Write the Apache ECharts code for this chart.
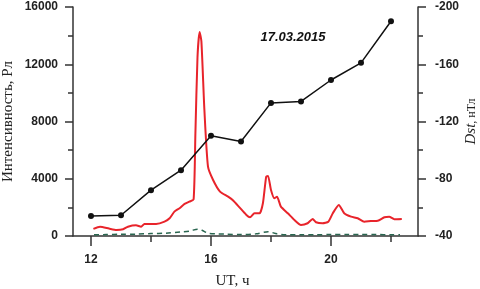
<!DOCTYPE html>
<html>
<head>
<meta charset="utf-8">
<script src="https://cdn.jsdelivr.net/npm/echarts@6/dist/echarts.min.js"></script>
<style>
  html, body { margin: 0; padding: 0; background: #fff; }
  #chart { width: 480px; height: 289px; }
</style>
</head>
<body>
<div id="chart"></div>
<script>
// intensity (red), hours UT
var redHours = [12.08, 12.3, 12.6, 12.85, 13.07, 13.23, 13.5, 13.67, 13.78, 14.17, 14.45, 14.62, 14.78, 14.95,
  15.12, 15.28, 15.42, 15.48, 15.55, 15.62, 15.68, 15.78, 15.9, 16.07, 16.3, 16.57, 16.73, 16.95, 17.18,
  17.3, 17.45, 17.62, 17.73, 17.84, 17.9, 18.0, 18.11, 18.2, 18.33, 18.56, 18.78, 19.0, 19.22, 19.39,
  19.5, 19.72, 19.91, 20.06, 20.26, 20.44, 20.67, 20.89, 21.11, 21.33, 21.56, 21.78, 21.94, 22.11, 22.36];
var redValues = [500, 650, 520, 420, 470, 650, 750, 650, 840, 840, 1000, 1240, 1700, 1940,
  2240, 2400, 2560, 7180, 12500, 14250, 13600, 8800, 4840, 3910, 3100, 2750, 2500, 2000, 1470,
  1310, 1590, 1590, 2290, 4150, 4200, 3210, 2630, 2750, 2050, 1590, 1120, 770, 890, 1190,
  960, 890, 1000, 1590, 2170, 1590, 1350, 1240, 1000, 1050, 1070, 1310, 1350, 1170, 1190];

// second intensity (green dashed)
var greenHours = [12.1, 12.5, 13, 13.5, 14, 14.5, 15, 15.3, 15.55, 15.7, 15.9, 16.2, 16.5, 17, 17.5,
  17.9, 18.2, 18.5, 19, 19.5, 20, 20.5, 21, 21.5, 22, 22.3];
var greenValues = [80, 100, 120, 130, 170, 200, 280, 350, 480, 400, 200, 150, 130, 100, 150,
  300, 150, 90, 80, 90, 100, 110, 100, 100, 90, 90];

// Dst index (black), hourly
var dstHours = [12, 13, 14, 15, 16, 17, 18, 19, 20, 21, 22];
var dstValues = [-54, -54.5, -72, -86, -110, -106, -133, -134, -149, -161, -190];

var xLabelValues = [12, 16, 20];
var xMinorTicks = [14, 18, 22];

function pairs(xs, ys) {
  return xs.map(function (x, i) { return [x, ys[i]]; });
}

var labelFont = {
  fontFamily: 'Liberation Sans',
  fontWeight: 'bold',
  fontSize: 12,
  color: '#222'
};
var nameFont = {
  fontFamily: 'Liberation Serif',
  fontSize: 15,
  color: '#222'
};
var lineStyle = { color: '#333', width: 1.5 };
var plain = function (v) { return String(v); };

var chart = echarts.init(document.getElementById('chart'));
chart.setOption({
  animation: false,
  grid: { left: 73, right: 62, top: 7, bottom: 53, outerBoundsMode: 'none', containLabel: false },
  title: {
    text: '17.03.2015',
    left: 288,
    top: 26,
    textAlign: 'center',
    textStyle: {
      fontFamily: 'Liberation Sans',
      fontStyle: 'italic',
      fontWeight: 'bold',
      fontSize: 13,
      color: '#111'
    }
  },
  xAxis: [
    {
      type: 'value',
      min: 11.4,
      max: 22.9,
      name: 'UT, ч',
      nameLocation: 'middle',
      nameGap: 38,
      nameMoveOverlap: false,
      nameTextStyle: Object.assign({}, nameFont, { padding: [0, 26, 0, 0] }),
      axisLine: { lineStyle: lineStyle },
      axisTick: { customValues: xLabelValues, length: 10, lineStyle: lineStyle },
      axisLabel: Object.assign({ customValues: xLabelValues, margin: 18, formatter: plain }, labelFont),
      splitLine: { show: false }
    },
    {
      type: 'value',
      min: 11.4,
      max: 22.9,
      position: 'bottom',
      axisLine: { show: false },
      axisTick: { customValues: xMinorTicks, length: 6, lineStyle: lineStyle },
      axisLabel: { show: false },
      splitLine: { show: false }
    }
  ],
  yAxis: [
    {
      type: 'value',
      min: 0,
      max: 16000,
      interval: 4000,
      name: 'Интенсивность, Рл',
      nameLocation: 'middle',
      nameGap: 57,
      nameMoveOverlap: false,
      nameTextStyle: nameFont,
      axisLine: { show: true, lineStyle: lineStyle },
      axisTick: { show: true, length: 8, lineStyle: lineStyle },
      minorTick: { show: true, splitNumber: 2, length: 5, lineStyle: lineStyle },
      axisLabel: Object.assign({ margin: 15, formatter: plain }, labelFont),
      splitLine: { show: false }
    },
    {
      type: 'value',
      min: -200,
      max: -40,
      interval: 40,
      inverse: true,
      position: 'right',
      name: '{i|Dst}{n|, нТл}',
      nameLocation: 'middle',
      nameGap: 46,
      nameRotate: 90,
      nameMoveOverlap: false,
      nameTextStyle: {
        rich: {
          i: { fontFamily: 'Liberation Serif', fontStyle: 'italic', fontSize: 15, color: '#222' },
          n: { fontFamily: 'Liberation Serif', fontSize: 12, color: '#222' }
        }
      },
      axisLine: { show: true, lineStyle: lineStyle },
      axisTick: { show: true, length: 8, lineStyle: lineStyle },
      minorTick: { show: true, splitNumber: 2, length: 5, lineStyle: lineStyle },
      axisLabel: Object.assign({ margin: 17, formatter: plain }, labelFont),
      splitLine: { show: false }
    }
  ],
  series: [
    {
      name: 'green',
      type: 'line',
      data: pairs(greenHours, greenValues),
      showSymbol: false,
      smooth: 0.3,
      lineStyle: { color: '#2a6650', width: 1.5, type: [5, 4] }
    },
    {
      name: 'red',
      type: 'line',
      data: pairs(redHours, redValues),
      showSymbol: false,
      smooth: 0.2,
      lineStyle: { color: '#e8242b', width: 2 }
    },
    {
      name: 'Dst',
      type: 'line',
      yAxisIndex: 1,
      data: pairs(dstHours, dstValues),
      symbol: 'circle',
      symbolSize: 6,
      itemStyle: { color: '#111' },
      lineStyle: { color: '#111', width: 1.5 }
    }
  ]
});
</script>
</body>
</html>
